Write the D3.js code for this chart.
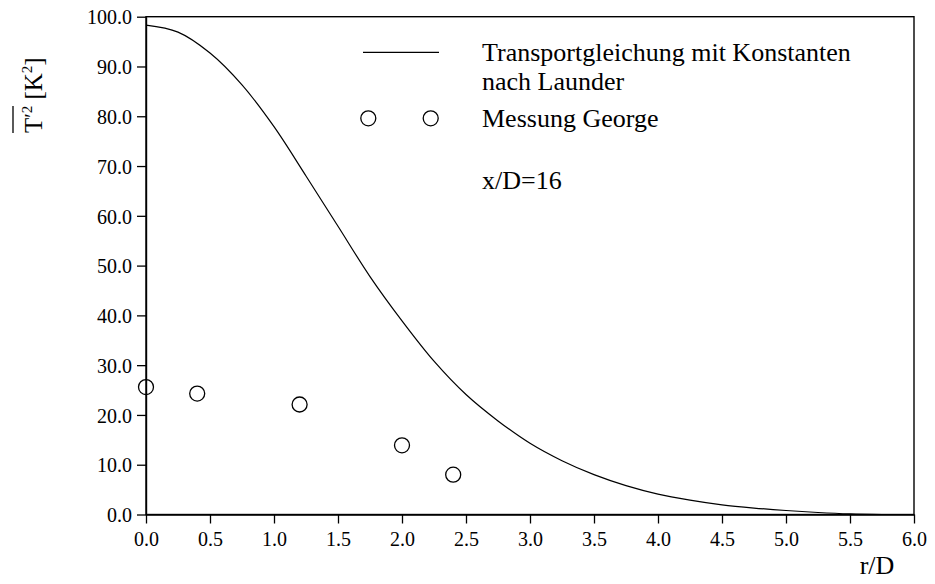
<!DOCTYPE html>
<html>
<head>
<meta charset="utf-8">
<script src="https://cdn.jsdelivr.net/npm/d3@7"></script>
<style>
  html, body { margin: 0; padding: 0; background: #fff; }
  svg { display: block; }
  svg text { font-family: 'Liberation Serif', 'Times New Roman', Times, 'DejaVu Serif', serif; fill: #000; }
</style>
</head>
<body>
<svg id="chart" width="935" height="584"></svg>
<script>
// Radial profile r/D of the temperature variance at x/D = 16
const modelR = [0, 0.25, 0.5, 0.75, 1.0, 1.25, 1.5, 1.75, 2.0, 2.25, 2.5, 2.75, 3.0,
                3.25, 3.5, 3.75, 4.0, 4.25, 4.5, 4.75, 5.0, 5.25, 5.5, 5.75];
const modelT2 = [98.3, 96.9, 92.7, 86.3, 77.9, 68.0, 57.9, 47.8, 38.9, 30.8, 24.1, 18.8, 14.3,
                 10.8, 8.0, 5.8, 4.1, 2.9, 1.95, 1.3, 0.8, 0.4, 0.12, 0];

// Measurements (George)
const measR = [0.0, 0.4, 1.2, 2.0, 2.4];
const measT2 = [25.6, 24.3, 22.1, 13.9, 8.0];

const xTicks = [0, 0.5, 1, 1.5, 2, 2.5, 3, 3.5, 4, 4.5, 5, 5.5, 6];
const yTicks = [0, 10, 20, 30, 40, 50, 60, 70, 80, 90, 100];

const legendLine = "Transportgleichung mit Konstanten";
const legendLine2 = "nach Launder";
const legendMeas = "Messung George";
const caseLabel = "x/D=16";

const serif = "'Liberation Serif', 'Times New Roman', Times, 'DejaVu Serif', serif";

const svg = d3.select("#chart");
const plotL = 146, plotR = 914, plotT = 16.7, plotB = 514.5;

const x = d3.scaleLinear().domain([0, 6]).range([plotL, plotR]);
const y = d3.scaleLinear().domain([0, 100]).range([plotB, plotT]);

// frame
svg.append("rect")
  .attr("x", plotL).attr("y", plotT)
  .attr("width", plotR - plotL).attr("height", plotB - plotT)
  .attr("fill", "none").attr("stroke", "#000").attr("stroke-width", 1.4);

// axes
const xAxis = svg.append("g")
  .attr("transform", `translate(0,${plotB})`)
  .call(d3.axisBottom(x).tickValues(xTicks).tickFormat(d3.format(".1f"))
        .tickSize(9).tickSizeOuter(0).tickPadding(8));
const yAxis = svg.append("g")
  .attr("transform", `translate(${plotL},0)`)
  .call(d3.axisLeft(y).tickValues(yTicks).tickFormat(d3.format(".1f"))
        .tickSize(9).tickSizeOuter(0).tickPadding(5));

[xAxis, yAxis].forEach(g => {
  g.attr("font-family", serif);
  g.select(".domain").attr("stroke", "#000").attr("stroke-width", 1.4);
  g.selectAll(".tick line").attr("stroke", "#000").attr("stroke-width", 1.3);
  g.selectAll(".tick text")
    .attr("font-family", serif)
    .attr("font-size", 20).attr("fill", "#000");
});
yAxis.selectAll(".tick text").attr("dy", "0.36em");

// model curve
const line = d3.line()
  .x((d, i) => x(modelR[i]))
  .y((d, i) => y(modelT2[i]))
  .curve(d3.curveCatmullRom.alpha(0.5));
svg.append("path")
  .datum(modelT2)
  .attr("d", line)
  .attr("fill", "none").attr("stroke", "#000").attr("stroke-width", 1.2);

// measurement circles (open)
svg.append("g").selectAll("circle")
  .data(measR)
  .join("circle")
  .attr("cx", (d) => x(d))
  .attr("cy", (d, i) => y(measT2[i]))
  .attr("r", 7.5)
  .attr("fill", "none").attr("stroke", "#000").attr("stroke-width", 1.3);

// legend
svg.append("line")
  .attr("x1", 363).attr("x2", 439).attr("y1", 52.3).attr("y2", 52.3)
  .attr("stroke", "#000").attr("stroke-width", 1.2);
[368.3, 430.7].forEach(cx => {
  svg.append("circle").attr("cx", cx).attr("cy", 118.3).attr("r", 7.5)
    .attr("fill", "none").attr("stroke", "#000").attr("stroke-width", 1.3);
});
const legText = (t, yy) => svg.append("text")
  .attr("x", 482).attr("y", yy)
  .attr("font-family", serif).attr("font-size", 26).text(t);
legText(legendLine, 60.5);
legText(legendLine2, 90);
legText(legendMeas, 127.3);
legText(caseLabel, 189);

// axis titles
svg.append("text")
  .attr("x", 877).attr("y", 574)
  .attr("text-anchor", "middle")
  .attr("font-family", serif).attr("font-size", 26)
  .text("r/D");

const yl = svg.append("g").attr("transform", "translate(42,133) rotate(-90)");
const ylt = yl.append("text").attr("x", 0).attr("y", 0)
  .attr("font-family", serif).attr("font-size", 25);
ylt.append("tspan").text("T");
ylt.append("tspan").attr("font-size", 20).attr("dy", -3).text("\u2032");
ylt.append("tspan").attr("font-size", 15).attr("dy", -7).text("2");
ylt.append("tspan").attr("dy", 10).text(" [K");
ylt.append("tspan").attr("font-size", 15).attr("dy", -10).text("2");
ylt.append("tspan").attr("dy", 10).text("]");
// overline above T'
yl.append("line")
  .attr("x1", 0).attr("x2", 27).attr("y1", -29).attr("y2", -29)
  .attr("stroke", "#000").attr("stroke-width", 1.3);
</script>
</body>
</html>
